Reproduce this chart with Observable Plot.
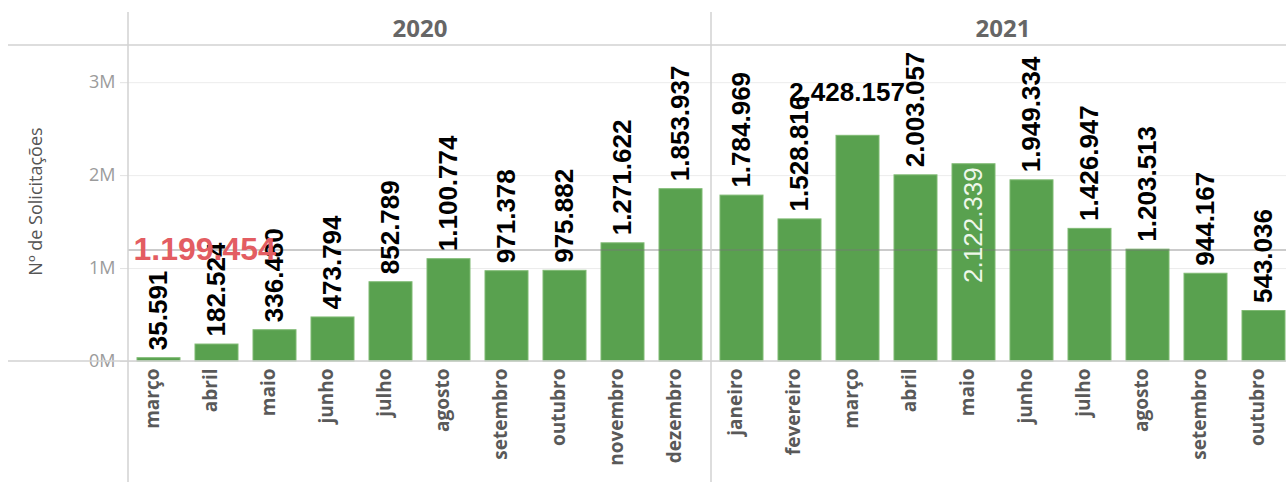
<!DOCTYPE html>
<html><head><meta charset="utf-8">
<script src="https://cdn.jsdelivr.net/npm/d3@7"></script>
<script src="https://cdn.jsdelivr.net/npm/@observablehq/plot@0.6"></script>
<style>html,body{margin:0;padding:0;background:#fff;overflow:hidden}</style>
</head><body><div id="chart"></div>
<script>
const years = ["2020", "2021"];
const months2020 = ["março","abril","maio","junho","julho","agosto","setembro","outubro","novembro","dezembro"];
const months2021 = ["janeiro","fevereiro","março","abril","maio","junho","julho","agosto","setembro","outubro"];
const values2020 = [35591,182524,336480,473794,852789,1100774,971378,975882,1271622,1853937];
const values2021 = [1784969,1528816,2428157,2003057,2122339,1949334,1426947,1203513,944167,543036];
const yTicks = [0, 1000000, 2000000, 3000000];
const averageValue = 1199454;
const yTitle = "Nº de Solicitações";

const data = [];
months2020.forEach((m, i) => data.push({year: "2020", idx: i, month: m, value: values2020[i]}));
months2021.forEach((m, i) => data.push({year: "2021", idx: i, month: m, value: values2021[i]}));

const fmt = d3.formatLocale({decimal: ",", thousands: ".", grouping: [3], currency: ["", ""]}).format(",d");

const isHoriz = d => d.year === "2021" && d.month === "março";
const isInside = d => d.year === "2021" && d.month === "maio";
const regular = data.filter(d => !isHoriz(d) && !isInside(d));
const horiz = data.filter(isHoriz);
const inside = data.filter(isInside);

const labelFont = "Liberation Sans, Arial, sans-serif";
const axisFont = "Open Sans, sans-serif";

const chart = Plot.plot({
  width: 1286, height: 482,
  marginLeft: 128, marginRight: -8, marginTop: 45, marginBottom: 121,
  style: {fontFamily: axisFont, background: "#fff"},
  fx: {domain: years, padding: 0, label: null},
  x: {domain: d3.range(10), paddingInner: 0.26, paddingOuter: 0.13, axis: null},
  y: {domain: [0, 3400000], axis: null},
  marks: [
    Plot.gridY(yTicks, {stroke: "#ececec", strokeOpacity: 1}),
    Plot.axisY(yTicks, {tickFormat: d => d / 1e6 + "M", fontSize: 18, fill: "#9b9b9b", stroke: "#e2e2e2", tickSize: 8, tickPadding: 5, label: null}),
    Plot.axisFx({anchor: "top", tickSize: 0, tickPadding: 9, fontSize: 24, fontWeight: "bold", fill: "#666", label: null}),
    Plot.barY(data, {fx: "year", x: "idx", y: "value", fill: "#59a14f", stroke: "#7fba73", strokeWidth: 1}),
    Plot.ruleY([averageValue], {stroke: "#777", strokeOpacity: 0.38, strokeWidth: 2}),
    Plot.text(regular, {fx: "year", x: "idx", y: "value", text: d => fmt(d.value), rotate: -90, textAnchor: "start", dy: -8, fontSize: 26, fontWeight: "bold", fill: "#000", fontFamily: labelFont}),
    Plot.text(horiz, {fx: "year", x: "idx", y: "value", text: d => fmt(d.value), dy: -43, dx: -11, fontSize: 26, fontWeight: "bold", fill: "#000", fontFamily: labelFont}),
    Plot.text(inside, {fx: "year", x: "idx", y: "value", text: d => fmt(d.value), rotate: -90, textAnchor: "end", dy: 3, fontSize: 26, fill: "#eef7ea", fontFamily: labelFont}),
    Plot.text(data, {fx: "year", x: "idx", text: "month", frameAnchor: "bottom", rotate: -90, textAnchor: "end", dy: 7, fontSize: 19, fontWeight: "bold", fill: "#595959", fontFamily: axisFont}),
    Plot.text([{year: "2020", v: averageValue}], {fx: "year", y: "v", text: d => fmt(d.v), frameAnchor: "left", textAnchor: "start", dx: 5, fontSize: 32, fontWeight: "bold", fill: "#e35d62", fontFamily: labelFont}),
    Plot.text([{year: "2020"}], {fx: "year", text: () => yTitle, frameAnchor: "left", textAnchor: "middle", rotate: -90, dx: -92, dy: -2, fontSize: 18, fill: "#555", fontFamily: axisFont})
  ]
});

document.getElementById("chart").appendChild(chart);

// structural lines (header divider, baseline, facet separators) placed from the plot's own scales
const svg = d3.select(chart);
const y = chart.scale("y");
const fx = chart.scale("fx");
const leftEdge = 8, topEdge = 12, W = 1286, H = 482;
const g = svg.append("g").attr("stroke", "#d2d2d2").attr("stroke-width", 1.5);
[y.apply(0), y.apply(y.domain[1])].forEach(v => g.append("line").attr("x1", leftEdge).attr("x2", W).attr("y1", v).attr("y2", v));
years.forEach(yr => { const v = fx.apply(yr); g.append("line").attr("x1", v).attr("x2", v).attr("y1", topEdge).attr("y2", H); });
</script>
</body></html>
